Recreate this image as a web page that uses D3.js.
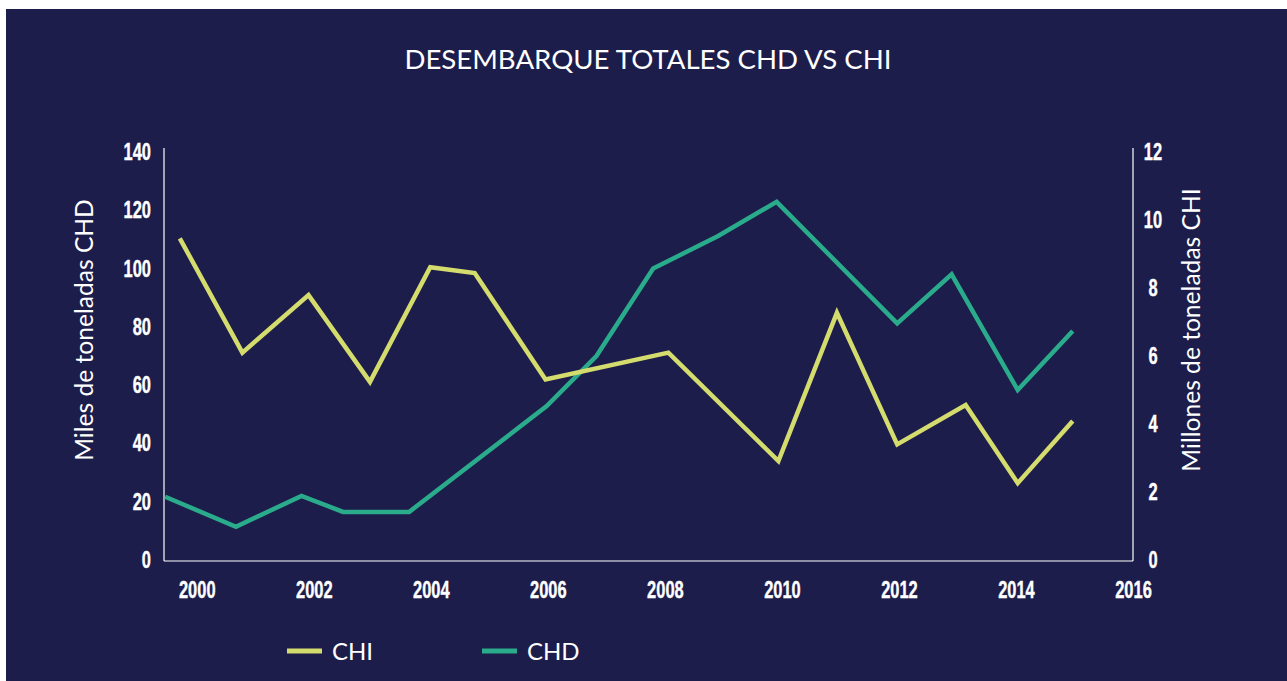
<!DOCTYPE html>
<html>
<head>
<meta charset="utf-8">
<script src="https://cdn.jsdelivr.net/npm/d3@7"></script>
<style>
  body { margin: 0; background: #fff; }
  .tick text { font-family: "Liberation Sans", Arial, sans-serif; font-weight: bold; font-size: 23.5px; fill: #fff; stroke: #fff; stroke-width: 0.4; }
  .domain { stroke: #fff; stroke-width: 1.2; }
  .title, .axis-title, .legend text { font-family: Lato, "Open Sans", sans-serif; fill: #fff; }
</style>
</head>
<body>
<div id="chart"></div>
<script>
// data
const chdYears = [1999.46, 2000.67, 2001.79, 2002.5, 2003.63, 2005.98, 2006.83, 2007.8, 2008.91, 2009.91, 2011.97, 2012.9, 2014.03, 2014.97];
const chdValues = [21.7, 11.4, 22.0, 16.5, 16.5, 52.8, 70.0, 100.0, 111.2, 122.9, 81.2, 98.0, 58.3, 78.6]; // miles de t

const chiYears = [1999.71, 2000.78, 2001.91, 2002.96, 2003.99, 2004.75, 2005.96, 2008.06, 2009.94, 2010.94, 2011.97, 2013.14, 2014.03, 2014.97];
const chiValues = [9.46, 6.10, 7.79, 5.24, 8.61, 8.44, 5.31, 6.10, 2.91, 7.27, 3.40, 4.56, 2.26, 4.09]; // millones de t

const xTicks = [2000, 2002, 2004, 2006, 2008, 2010, 2012, 2014, 2016];
const leftTicks = [0, 20, 40, 60, 80, 100, 120, 140];
const rightTicks = [0, 2, 4, 6, 8, 10, 12];

const width = 1287;
const height = 681;
const colors = { chi: '#d4dc6d', chd: '#2aab8b', bg: '#1c1d4b' };

const svg = d3.select('#chart').append('svg')
    .attr('width', width)
    .attr('height', height);

svg.append('rect')
    .attr('x', 6)
    .attr('y', 9)
    .attr('width', width - 6)
    .attr('height', height - 9)
    .attr('fill', colors.bg);

const xScale = d3.scaleLinear().domain([1999.44, 2016]).range([164, 1133]);
const yLeft = d3.scaleLinear().domain([0, 140]).range([560, 152]);
const yRight = d3.scaleLinear().domain([0, 12]).range([560, 152]);

// condensed look for tick labels: squeeze text horizontally
function narrow(g) {
    g.selectAll('.tick text').each(function() {
        const t = d3.select(this);
        const x = +t.attr('x') || 0;
        t.attr('x', 0).attr('transform', 'translate(' + x + ',0) scale(0.7,1)');
    });
}

// title
svg.append('text')
    .attr('class', 'title')
    .attr('x', 648)
    .attr('y', 69)
    .attr('text-anchor', 'middle')
    .style('font-size', '27.6px')
    .text('DESEMBARQUE TOTALES CHD VS CHI');

// axes
svg.append('g')
    .attr('transform', 'translate(164,0)')
    .call(d3.axisLeft(yLeft).tickValues(leftTicks).tickSize(0).tickPadding(13))
    .call(g => g.select('.domain').attr('d', 'M0,148V561'))
    .call(narrow);

const right = svg.append('g')
    .attr('transform', 'translate(1133,0)')
    .call(d3.axisRight(yRight).tickValues(rightTicks).tickSize(0).tickPadding(20))
    .call(g => g.select('.domain').attr('d', 'M0,148V561'));
right.selectAll('.tick text').attr('text-anchor', 'middle');
right.call(narrow);

svg.append('g')
    .attr('transform', 'translate(0,561)')
    .call(d3.axisBottom(xScale).tickValues(xTicks).tickFormat(d3.format('d')).tickSize(0).tickPadding(20))
    .call(g => g.select('.domain').attr('d', 'M164,0H1133'))
    .call(narrow);

// axis titles
svg.append('text')
    .attr('class', 'axis-title')
    .attr('transform', 'translate(93,330) rotate(-90)')
    .attr('text-anchor', 'middle')
    .style('font-size', '24.6px')
    .text('Miles de toneladas CHD');

svg.append('text')
    .attr('class', 'axis-title')
    .attr('transform', 'translate(1200,330) rotate(-90)')
    .attr('text-anchor', 'middle')
    .style('font-size', '24.6px')
    .text('Millones de toneladas CHI');

// lines
const chdData = chdYears.map((y, i) => ({ year: y, value: chdValues[i] }));
const chiData = chiYears.map((y, i) => ({ year: y, value: chiValues[i] }));

svg.append('path')
    .datum(chdData)
    .attr('fill', 'none')
    .attr('stroke', colors.chd)
    .attr('stroke-width', 4.5)
    .attr('d', d3.line().x(d => xScale(d.year)).y(d => yLeft(d.value)));

svg.append('path')
    .datum(chiData)
    .attr('fill', 'none')
    .attr('stroke', colors.chi)
    .attr('stroke-width', 4.5)
    .attr('d', d3.line().x(d => xScale(d.year)).y(d => yRight(d.value)));

// legend
const legendItems = [
    { name: 'CHI', color: colors.chi, x: 287 },
    { name: 'CHD', color: colors.chd, x: 482 }
];
const legend = svg.append('g').attr('class', 'legend');
const item = legend.selectAll('g')
    .data(legendItems)
    .enter().append('g')
    .attr('transform', d => 'translate(' + d.x + ',651)');
item.append('line')
    .attr('x1', 0)
    .attr('x2', 35)
    .attr('stroke', d => d.color)
    .attr('stroke-width', 5);
item.append('text')
    .attr('x', 45)
    .attr('y', 9)
    .style('font-size', '24px')
    .text(d => d.name);
</script>
</body>
</html>
